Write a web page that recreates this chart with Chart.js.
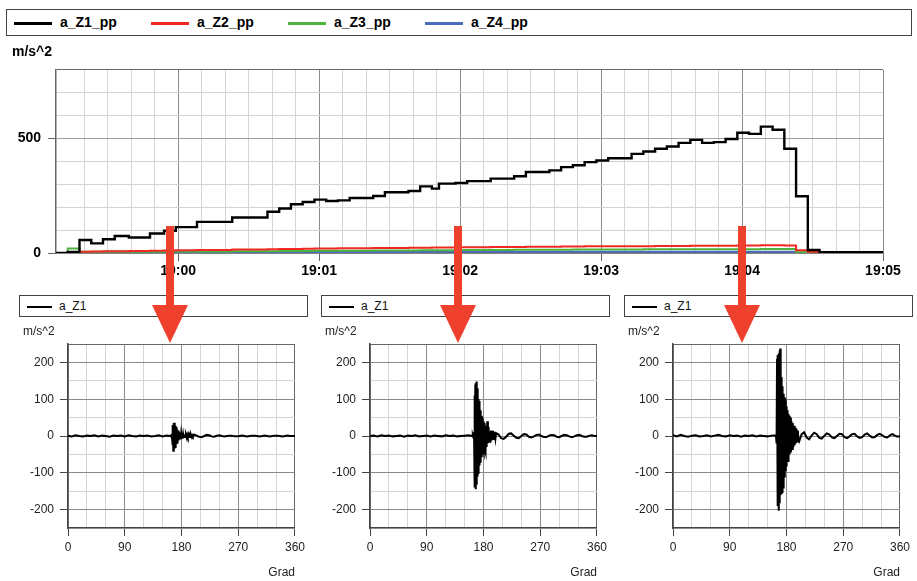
<!DOCTYPE html>
<html>
<head>
<meta charset="utf-8">
<script src="https://cdn.jsdelivr.net/npm/chart.js@4.4.1/dist/chart.umd.min.js"></script>
<style>
  body { margin: 0; background: #fff; overflow: hidden; }
  #page { position: relative; width: 917px; height: 581px; font-family: 'Liberation Sans', Arial, sans-serif; color: #000; }
  .legend { position: absolute; box-sizing: border-box; border: 1px solid #444; white-space: nowrap; background: #fff; }
  .legend .item { display: inline-block; }
  .legend i { display: inline-block; vertical-align: middle; }
  #topLegend { left: 6px; top: 9px; width: 906px; height: 27px; padding-left: 7px; font-size: 14px; font-weight: bold; line-height: 25px; }
  #topLegend .item { width: 137px; }
  #topLegend i { width: 38px; height: 2.5px; margin-right: 8px; }
  .panel { position: absolute; top: 290px; width: 305px; height: 291px; }
  .panel .legend { left: 15px; top: 5px; width: 289px; height: 22px; padding-left: 7px; font-size: 12px; line-height: 20px; color: #111; }
  .panel .legend i { width: 25px; height: 2px; margin-right: 7px; }
  .panel canvas { position: absolute; left: 0; top: 30px; }
  #trend { position: absolute; left: 0; top: 38px; }
  #arrows { position: absolute; left: 0; top: 0; pointer-events: none; }
</style>
</head>
<body>
<div id="page">
  <div id="topLegend" class="legend"></div>
  <canvas id="trend" width="917" height="252"></canvas>
  <div class="panel" style="left:4px"><div class="legend"></div><canvas id="snap1" width="305" height="261"></canvas></div>
  <div class="panel" style="left:306px"><div class="legend"></div><canvas id="snap2" width="305" height="261"></canvas></div>
  <div class="panel" style="left:609px"><div class="legend"></div><canvas id="snap3" width="305" height="261"></canvas></div>
  <svg id="arrows" width="917" height="581">
    <g fill="#ee402c">
      <rect x="166" y="226" width="8" height="80"/><polygon points="152,305 188,305 170,343"/>
      <rect x="454" y="226" width="8" height="80"/><polygon points="440,305 476,305 458,343"/>
      <rect x="738" y="226" width="8" height="80"/><polygon points="724,305 760,305 742,343"/>
    </g>
  </svg>
</div>
<script>
const FONT = "'Liberation Sans', Arial, sans-serif";

// trend: seconds after 19:00:00, each value holds until the next time
const trendTimes = [-52, -47, -42, -37, -32, -27, -21, -12, -6, -1,
  8, 23, 38, 43, 48, 53, 58, 63, 68, 73,
  83, 88, 98, 103, 108, 111, 118, 123, 133, 143,
  148, 158, 163, 168, 173, 178, 183, 193, 198, 203,
  208, 213, 218, 223, 228, 233, 238, 243, 248, 253,
  258, 263, 268, 273, 300];
const aZ1pp = [0, 5, 57, 42, 60, 74, 68, 85, 97, 113,
  136, 155, 180, 194, 213, 223, 233, 227, 230, 240,
  249, 265, 271, 291, 281, 303, 306, 314, 325, 335,
  354, 361, 375, 383, 397, 404, 414, 433, 443, 455,
  465, 481, 494, 481, 484, 498, 525, 520, 552, 538,
  455, 248, 13, 3, 0];
const aZ2pp = [0, 2, 6, 7, 8, 8, 9, 10, 11, 12,
  13, 15, 16, 17, 18, 19, 20, 20, 21, 21,
  22, 22, 23, 23, 24, 24, 25, 25, 26, 26,
  27, 27, 28, 28, 29, 29, 30, 30, 30, 31,
  31, 31, 32, 32, 32, 32, 33, 33, 34, 34,
  33, 12, 5, 3, 3];
const aZ3pp = [0, 20, 5, 5, 5, 6, 6, 6, 7, 7,
  7, 8, 8, 9, 9, 9, 10, 10, 10, 10,
  11, 11, 11, 12, 12, 12, 13, 13, 13, 14,
  14, 14, 14, 15, 15, 15, 15, 15, 16, 16,
  16, 16, 16, 16, 16, 16, 16, 16, 17, 17,
  17, 3, 2, 1, 1];
const aZ4pp = [0, 1, 2, 2, 2, 2, 2, 3, 3, 3,
  3, 3, 3, 3, 3, 4, 4, 4, 4, 4,
  4, 4, 4, 4, 5, 5, 5, 5, 5, 5,
  5, 5, 5, 5, 5, 5, 6, 6, 6, 6,
  6, 6, 6, 6, 6, 6, 6, 6, 6, 6,
  6, 2, 1, 1, 1];
const trendNames = ['a_Z1_pp', 'a_Z2_pp', 'a_Z3_pp', 'a_Z4_pp'];
const trendColors = ['#000000', '#ee2a22', '#4db33d', '#4b6bc0'];
const trendSeries = [aZ1pp, aZ2pp, aZ3pp, aZ4pp];
const trendYLabels = [0, 500];
const minuteLabels = ['19:00', '19:01', '19:02', '19:03', '19:04', '19:05'];

// crank angle snapshots of a_Z1 (Grad)
const grad = [0, 6, 12, 18, 24, 30, 36, 42, 48, 54, 60, 66, 72, 78, 84, 90, 96, 102, 108, 114,
  120, 126, 132, 138, 144, 150, 156, 162,
  163, 163.5, 164, 164.5, 165, 165.5, 166, 166.5, 167, 167.5, 168, 168.5, 169, 169.5, 170, 170.5,
  171, 171.5, 172, 172.5, 173, 173.5, 174, 174.5, 175, 175.5, 176, 176.5, 177, 177.5, 178, 178.5,
  179, 179.5, 180, 180.5, 181, 181.5, 182, 182.5, 183, 183.5, 184, 184.5, 185, 185.5, 186,
  187, 188, 189, 190, 191, 192, 193, 194, 195, 196, 197, 198, 199,
  200, 204, 208, 212, 216, 220, 224, 228, 232, 236, 240, 244, 248, 252, 256, 260, 264, 268, 272, 276,
  280, 284, 288, 292, 296, 300, 304, 308, 312, 316, 320, 324, 328, 332, 336, 340, 344, 348, 352, 356, 360];
const z1At1900 = [1, -1, 2, 0, -1, 1, 0, 2, -1, 1, 0, -2, 1, 0, 1, -1, 2, 0, -1, 1, 0, 1, -1, 0, 2, -1, 1, 0,
  0, 2, -3, 4, -6, 10, -25, 30, -40, 35, -38, 36, -34, 33, -30, 28, -26, 24, -22, 20, -18, 17, -15, 14,
  -12, 12, -10, 10, -9, 8, -7, 8, -6, 7, -5, 6, -5, 5, -4, 5, -4, 4, -3, 4, -3, 3, -2,
  3, -3, 4, -2, 3, -3, 2, -2, 3, -2, 2, -1, 2,
  4, 1, -2, -3, 0, 3, 2, -1, -2, 1, 2, 0, -1, 0, 1, 1, -1, -1, 0, 1, 0, -1, 0, 1, 1, 0, -1, 0, 1, 0,
  -1, 0, 1, 1, 0, -1, 0, 1, 0, 0, 0];
const z1At1902 = [0, 1, -1, 2, 0, 1, -1, 0, 1, -2, 1, 0, 2, -1, 0, 1, -1, 1, 0, -1, 2, 0, 1, -1, 0, 1, 2, 0,
  1, -2, 3, -5, 10, -40, 110, -140, 140, -145, 145, -130, 148, -120, 130, -110, 115, -100, 100, -95,
  95, -80, 85, -70, 70, -60, 60, -55, 55, -50, 50, -50, 45, -40, 40, -45, 35, -35, 30, -40,
  28, -45, 25, -30, 22, -25, 40,
  -20, 25, -15, 12, -18, 15, -12, 14, -10, 12, -8, 10, -6,
  8, 4, -6, -8, -2, 6, 7, 1, -5, -6, 0, 5, 4, -2, -4, -1, 3, 4, 0, -3, -3, 1, 3, 2, -2, -3, 0, 3, 2, -1,
  -3, -1, 2, 3, 0, -2, -2, 1, 2, 0, 0];
const z1At1904 = [2, -1, 3, 0, -2, 1, 2, -1, 0, 2, -1, 1, 3, 0, -1, 2, 0, 1, -2, 1, 0, 2, -1, 1, 0, -1, 1, 2,
  2, -3, 5, -20, 210, -150, 220, -190, 215, -203, 225, -180, 232, -170, 238, -160, 200, -155, 160, -150,
  135, -155, 125, -140, 115, -120, 110, -110, 105, -100, 100, -95, 85, -80, 80, -70, 70, -65, 65, -68,
  60, -60, 55, -50, 52, -45, 50,
  -45, 40, -35, 35, -30, 28, -25, 22, -20, 18, -15, 15, -12,
  -15, 5, 10, -4, -9, 2, 9, 5, -5, -7, 1, 7, 4, -4, -6, 0, 6, 5, -3, -6, -1, 5, 6, -1, -5, -3, 4, 7, 1, -4,
  -3, 3, 6, 2, -3, -4, 2, 5, 1, -2, 0];
const snapshots = [z1At1900, z1At1902, z1At1904];
const snapName = 'a_Z1';
const gradLabels = [0, 90, 180, 270, 360];
const snapYLabels = [-200, -100, 0, 100, 200];

const MINOR = '#d4d4d4';
const MAJOR = '#8a8a8a';
const EDGE = '#666666';

// top legend
const topLegend = document.getElementById('topLegend');
trendNames.forEach((name, i) => {
  const item = document.createElement('span');
  item.className = 'item';
  item.innerHTML = '<i style="background:' + trendColors[i] + '"></i>' + name;
  topLegend.appendChild(item);
});

// trend chart
new Chart(document.getElementById('trend'), {
  type: 'line',
  data: {
    datasets: trendSeries.map((vals, i) => ({
      label: trendNames[i],
      data: vals.map((v, k) => ({ x: trendTimes[k], y: v })),
      borderColor: trendColors[i],
      borderWidth: i === 0 ? 2.4 : 2,
      stepped: true,
      pointRadius: 0,
      fill: false,
    })),
  },
  options: {
    responsive: false,
    animation: false,
    layout: { padding: { left: 12, right: 34, top: 0, bottom: 0 } },
    plugins: {
      legend: { display: false },
      tooltip: { enabled: false },
      title: {
        display: true, text: 'm/s^2', align: 'start', color: '#000',
        font: { family: FONT, size: 14, weight: 'bold' },
        padding: { top: 6, bottom: 9 },
      },
    },
    scales: {
      x: {
        type: 'linear', min: -52, max: 300,
        afterFit: (s) => { s.height = 37; },
        ticks: {
          stepSize: 10, autoSkip: false, maxRotation: 0, padding: 2, color: '#000',
          font: { family: FONT, size: 14, weight: 'bold' },
          callback: (v) => (v % 60 === 0 ? minuteLabels[v / 60] : ''),
        },
        grid: {
          color: (c) => (c.tick.value < -45 ? 'rgba(0,0,0,0)' : c.tick.value % 60 === 0 ? MAJOR : MINOR),
          tickColor: (c) => (c.tick.value % 60 === 0 ? EDGE : 'rgba(0,0,0,0)'),
          tickLength: 8,
        },
        border: { color: EDGE, width: 1.5 },
      },
      y: {
        min: 0, max: 800,
        afterFit: (s) => { s.width = 44; },
        ticks: {
          stepSize: 100, autoSkip: false, padding: 7, color: '#000',
          font: { family: FONT, size: 14, weight: 'bold' },
          callback: (v) => (trendYLabels.includes(v) ? String(v) : ''),
        },
        grid: {
          color: (c) => (c.tick.value === 800 ? EDGE : trendYLabels.includes(c.tick.value) ? '#a0a0a0' : MINOR),
          tickColor: (c) => (trendYLabels.includes(c.tick.value) ? EDGE : 'rgba(0,0,0,0)'),
          tickLength: 8,
        },
        border: { color: EDGE, width: 1.5 },
      },
    },
  },
});

// snapshot charts
snapshots.forEach((vals, n) => {
  const canvas = document.getElementById('snap' + (n + 1));
  const legend = canvas.parentNode.querySelector('.legend');
  legend.innerHTML = '<span class="item"><i style="background:#000"></i>' + snapName + '</span>';
  new Chart(canvas, {
    type: 'line',
    data: {
      datasets: [{
        label: snapName,
        data: vals.map((v, k) => ({ x: grad[k], y: v })),
        borderColor: '#000',
        borderWidth: 2,
        pointRadius: 0,
        fill: false,
      }],
    },
    options: {
      responsive: false,
      animation: false,
      layout: { padding: { left: 19, right: 11, top: 0, bottom: 0 } },
      plugins: {
        legend: { display: false },
        tooltip: { enabled: false },
        title: {
          display: true, text: 'm/s^2', align: 'start', color: '#222',
          font: { family: FONT, size: 12, weight: 'normal' },
          padding: { top: 4, bottom: 5.6 },
        },
      },
      scales: {
        x: {
          type: 'linear', min: 0, max: 360,
          afterFit: (s) => { s.height = 53; },
          title: {
            display: true, text: 'Grad', align: 'end', color: '#222',
            font: { family: FONT, size: 12 }, padding: { top: 0, bottom: 1 },
          },
          ticks: {
            stepSize: 30, autoSkip: false, maxRotation: 0, padding: 4, color: '#222',
            font: { family: FONT, size: 12 },
            callback: (v) => (gradLabels.includes(v) ? String(v) : ''),
          },
          grid: {
            color: (c) => (c.tick.value === 360 ? EDGE : c.tick.value % 90 === 0 ? MAJOR : MINOR),
            tickColor: (c) => (gradLabels.includes(c.tick.value) ? '#444' : 'rgba(0,0,0,0)'),
            tickLength: 8,
          },
          border: { color: '#444', width: 1.5 },
        },
        y: {
          min: -250, max: 250,
          afterFit: (s) => { s.width = 45; },
          ticks: {
            stepSize: 50, autoSkip: false, padding: 6, color: '#222',
            font: { family: FONT, size: 12 },
            callback: (v) => (snapYLabels.includes(v) ? String(v) : ''),
          },
          grid: {
            color: (c) => (c.tick.value === 250 ? EDGE : c.tick.value % 100 === 0 ? MAJOR : MINOR),
            tickColor: (c) => (snapYLabels.includes(c.tick.value) ? '#444' : 'rgba(0,0,0,0)'),
            tickLength: 8,
          },
          border: { color: '#444', width: 1.5 },
        },
      },
    },
  });
});
</script>
</body>
</html>
